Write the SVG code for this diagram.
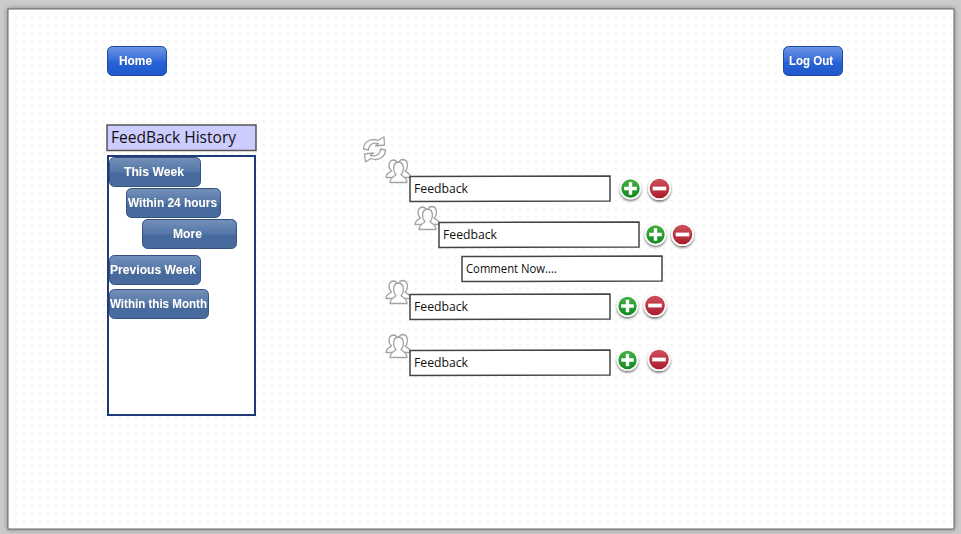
<svg xmlns="http://www.w3.org/2000/svg" width="961" height="534" viewBox="0 0 961 534">
<style>
.bt{font-family:"Liberation Sans",Arial,sans-serif;font-weight:bold;font-size:12px;fill:#fff;text-anchor:middle;filter:url(#ts)}
.sk{font-family:"Open Sans","DejaVu Sans",sans-serif;fill:#111}
.fb{fill:#fff;stroke:#444;stroke-width:1.500}
.steel{fill:url(#steel);stroke:#34527f;stroke-width:1}
.blue{fill:url(#blue);stroke:#1d4a9e;stroke-width:1}
.ic{fill:#fff;stroke:#a4a4a4;stroke-width:1.300;stroke-linejoin:round}
</style>
<defs>
<pattern id="dots" width="8" height="8" patternUnits="userSpaceOnUse" x="4" y="5">
<rect x="3" y="3" width="1.500" height="1.500" fill="#eeeeee"/>
</pattern>
<linearGradient id="blue" x1="0" y1="0" x2="0" y2="1">
<stop offset="0" stop-color="#6d97e2"/><stop offset=".45" stop-color="#3b70dc"/><stop offset=".55" stop-color="#2563d8"/><stop offset="1" stop-color="#2058c8"/>
</linearGradient>
<linearGradient id="steel" x1="0" y1="0" x2="0" y2="1">
<stop offset="0" stop-color="#7590b8"/><stop offset=".5" stop-color="#5377a8"/><stop offset=".55" stop-color="#456a9d"/><stop offset="1" stop-color="#4a6c9f"/>
</linearGradient>
<linearGradient id="grn" x1="0" y1="0" x2="0" y2="1">
<stop offset="0" stop-color="#45b044"/><stop offset="1" stop-color="#118a1e"/>
</linearGradient>
<linearGradient id="red" x1="0" y1="0" x2="0" y2="1">
<stop offset="0" stop-color="#d0505e"/><stop offset="1" stop-color="#a81c2c"/>
</linearGradient>
<filter id="ts" x="-20%" y="-30%" width="140%" height="160%"><feDropShadow dx="0" dy="0" stdDeviation=".7" flood-color="#1a2a50" flood-opacity=".9"/></filter>
<filter id="sh" x="-30%" y="-30%" width="160%" height="170%"><feDropShadow dx="0" dy="1.500" stdDeviation="1.200" flood-color="#000" flood-opacity=".6"/></filter>
<filter id="pg" x="-2%" y="-2%" width="104%" height="104%"><feDropShadow dx="0" dy="0" stdDeviation="2.500" flood-color="#666" flood-opacity=".8"/></filter>
<g id="users">
<path class="ic" d="M0.500 18.500 C0.500 14 4.500 13.500 6 12 C2.500 9 2.500 1.500 8 1 C12 1 13 6 12 11 L12 18.500 Z"/>
<path class="ic" d="M25 18.500 C25 14 21 13.500 19.500 12 C23 9 23 1 17.500 0.500 C13 0.500 12 6 13 11 L13 18.500 Z"/>
<path class="ic" d="M4.500 23.500 C4.500 18.500 9 17.500 10.500 15.500 C7 12 7 3.500 13 3 C19 3.500 19 12 15.500 15.500 C17 17.500 21.500 18.500 21.500 23.500 Z"/>
</g>
<g id="plus">
<circle r="10.800" fill="#fff" filter="url(#sh)"/><circle r="9.200" fill="url(#grn)"/>
<path d="M-6.300 0H6.300M0-6.300V6.300" stroke="#fff" stroke-width="3.400"/>
</g>
<g id="minus">
<circle r="11.500" fill="#fff" filter="url(#sh)"/><circle r="9.800" fill="url(#red)"/>
<path d="M-6.800 0H6.800" stroke="#fff" stroke-width="3.800"/>
</g>
</defs>
<rect width="961" height="534" fill="#cbcbcb"/>
<rect x="8" y="9" width="946" height="520" fill="#fff" stroke="#666" filter="url(#pg)"/>
<rect x="9" y="10" width="944" height="518" fill="url(#dots)"/>

<g id="home"><rect class="blue" x="107.500" y="46.500" width="59" height="29" rx="5"/><text class="bt" x="135.500" y="64.500" textLength="33" lengthAdjust="spacingAndGlyphs">Home</text></g>
<g id="logout"><rect class="blue" x="783.500" y="46.500" width="59" height="29" rx="5"/><text class="bt" x="811" y="64.500" textLength="44" lengthAdjust="spacingAndGlyphs">Log Out</text></g>

<g id="history-title"><rect x="107" y="125" width="149" height="25.500" fill="#ccccff" stroke="#555" stroke-width="1.500"/><text class="sk" x="111" y="143" font-size="16" textLength="125" lengthAdjust="spacingAndGlyphs">FeedBack History</text></g>
<g id="history-panel"><rect x="108" y="156" width="147" height="259" fill="#fff" stroke="#1f3a78" stroke-width="2"/></g>
<g id="this-week"><rect class="steel" x="109.500" y="157.500" width="91" height="29" rx="5"/><text class="bt" x="154" y="175.500" textLength="60" lengthAdjust="spacingAndGlyphs">This Week</text></g>
<g id="within-24"><rect class="steel" x="126.500" y="188.500" width="94" height="29" rx="5"/><text class="bt" x="172.500" y="206.500" textLength="89" lengthAdjust="spacingAndGlyphs">Within 24 hours</text></g>
<g id="more"><rect class="steel" x="142.500" y="219.500" width="94" height="29" rx="5"/><text class="bt" x="187.500" y="237.500" textLength="29" lengthAdjust="spacingAndGlyphs">More</text></g>
<g id="previous-week"><rect class="steel" x="109.500" y="255.500" width="91" height="29" rx="5"/><text class="bt" x="153" y="273.500" textLength="86" lengthAdjust="spacingAndGlyphs">Previous Week</text></g>
<g id="within-month"><rect class="steel" x="109.500" y="289.500" width="99" height="29" rx="5"/><text class="bt" x="158.500" y="307.500" textLength="97" lengthAdjust="spacingAndGlyphs">Within this Month</text></g>

<g id="refresh" fill="#fff" stroke="#a4a4a4" stroke-width="1.300" stroke-linejoin="round">
<path d="M363.500 149 C363.500 142 371 137.500 378 140.500 L384 137 L384.500 145 L375.500 146 L378.500 143.500 C373 142 368.500 145 368.500 150 Z"/>
<path d="M385.500 150 C385.500 157 378 161.500 371 158.500 L365.500 162 L364.500 154 L373.500 153 L370.500 155.500 C376 157 380.500 154 380.500 149 Z"/>
</g>

<g id="feedback-1"><use href="#users" x="385.500" y="159"/><path class="fb" d="M410 176.500 L610 176 L610 201 L410 201.500 Z"/><text class="sk" x="414" y="193" font-size="13" textLength="54" lengthAdjust="spacingAndGlyphs">Feedback</text><use href="#plus" x="630.500" y="188.500"/><use href="#minus" x="659.500" y="188.500"/></g>
<g id="feedback-2"><use href="#users" x="414.500" y="206"/><path class="fb" d="M439 222.500 L639 222 L639 247 L439 247.500 Z"/><text class="sk" x="443" y="239" font-size="13" textLength="54" lengthAdjust="spacingAndGlyphs">Feedback</text><use href="#plus" x="655.500" y="234.500"/><use href="#minus" x="682.500" y="234.500"/></g>
<g id="comment-now"><path class="fb" d="M462 256.500 L662 256 L662 281 L462 281.500 Z"/><text class="sk" x="466" y="273" font-size="13" textLength="91" lengthAdjust="spacingAndGlyphs">Comment Now....</text></g>
<g id="feedback-3"><use href="#users" x="385.500" y="280"/><path class="fb" d="M410 294.500 L610 294 L610 319 L410 319.500 Z"/><text class="sk" x="414" y="311" font-size="13" textLength="54" lengthAdjust="spacingAndGlyphs">Feedback</text><use href="#plus" x="627.500" y="306"/><use href="#minus" x="655" y="305.500"/></g>
<g id="feedback-4"><use href="#users" x="385.500" y="334"/><path class="fb" d="M410 350.500 L610 350 L610 375 L410 375.500 Z"/><text class="sk" x="414" y="367" font-size="13" textLength="54" lengthAdjust="spacingAndGlyphs">Feedback</text><use href="#plus" x="627.500" y="360"/><use href="#minus" x="659" y="359.500"/></g>
</svg>
